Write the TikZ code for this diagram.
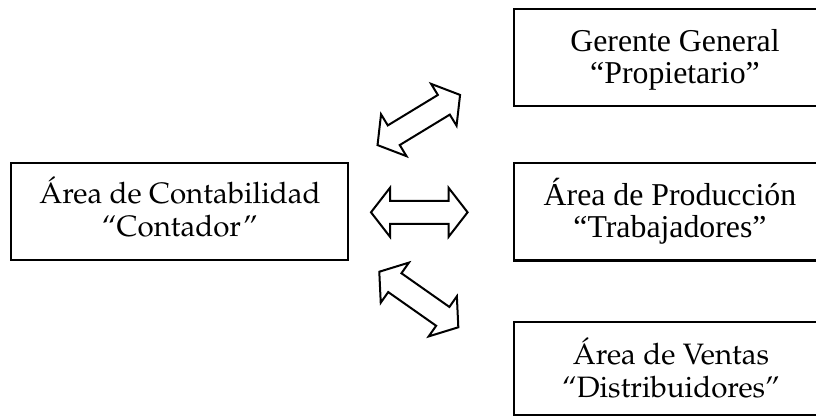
\documentclass[tikz,border=0pt]{standalone}
\usepackage[T1]{fontenc}
\usepackage{fontspec}
\newfontfamily\timesfont{Liberation Serif}
\newcommand\palfont{\fontencoding{T1}\fontfamily{ppl}\selectfont}
\tikzset{
  unitbox/.style={draw=black, line width=2.3pt, inner sep=0pt, rectangle},
  palline/.style={anchor=base, inner sep=0pt, font=\palfont\fontsize{29.5}{34}\selectfont},
  timesline/.style={anchor=base, inner sep=0pt, font=\timesfont\fontsize{31.8}{36}\selectfont},
  arrowline/.style={draw=black, fill=white, line width=2pt, line join=miter},
  blockarrow/.pic={
    \path[arrowline]
      (-48.3,0) -- (-29.3,24.5) -- (-29.3,11.5) -- (29.3,11.5) -- (29.3,24.5)
      -- (48.3,0) -- (29.3,-24.5) -- (29.3,-11.5) -- (-29.3,-11.5)
      -- (-29.3,-24.5) -- cycle;
  }
}
\begin{document}
\begin{tikzpicture}[x=1pt,y=-1pt]
\useasboundingbox (0,0) rectangle (816,416);
\fill[white] (0,0) rectangle (816,416);
\clip (0,0) rectangle (816,416);

% department boxes
\node[unitbox, minimum width=337pt, minimum height=97pt]   (acct) at (179.5,211.5) {};
\node[unitbox, minimum width=322pt, minimum height=97pt]   (gg)   at (675,57.5)    {};
\node[unitbox, minimum width=312pt, minimum height=97.5pt] (prod) at (670,211.75)  {};
\node[unitbox, minimum width=314pt, minimum height=93pt]   (vent) at (671,368.5)   {};

% box texts
\node[palline] (acct-a) at (180,203) {\'Area de Contabilidad};
\node[palline] (acct-b) at (180,236.5) {``Contador''};
\node[timesline] (gg-a) at (675,51) {Gerente General};
\node[timesline] (gg-b) at (675,83.5) {“Propietario”};
\node[timesline] (prod-a) at (670,205) {Área de Producción};
\node[timesline] (prod-b) at (670,237.5) {“Trabajadores”};
\node[palline] (vent-a) at (671,364) {\'Area de Ventas};
\node[palline] (vent-b) at (671,397.5) {``Distribuidores''};

% two-way block arrows
\pic[rotate=31.3]  at (418.8,120)   {blockarrow};
\pic               at (419.3,212.3) {blockarrow};
\pic[rotate=-35.1] at (418.8,299.5) {blockarrow};
\end{tikzpicture}
\end{document}
